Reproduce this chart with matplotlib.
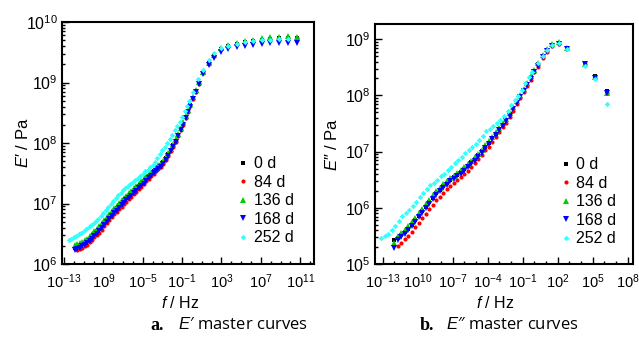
import numpy as np
import matplotlib
matplotlib.use('Agg')
import matplotlib.pyplot as plt
from matplotlib import font_manager
from matplotlib.ticker import FixedLocator, FixedFormatter, LogLocator, NullFormatter

nan = float('nan')

# ---------------- data (log10 values) ----------------
series_labels = ['0 d', '84 d', '136 d', '168 d', '252 d']

# E' master curves (panel a) : log10 f / Hz and log10 E' / Pa
logf_a = [-11.9, -11.65, -11.4, -11.15, -10.9, -10.65, -10.4, -10.15, -9.9, -9.65,
          -9.4, -9.15, -8.9, -8.65, -8.4, -8.15, -7.9, -7.65, -7.4, -7.15,
          -6.9, -6.65, -6.4, -6.15, -5.9, -5.65, -5.4, -5.15, -4.9, -4.65,
          -4.4, -4.15, -3.9, -3.65, -3.4, -3.15, -2.9, -2.65, -2.4, -2.15,
          -1.9, -1.65, -1.4, -1.15, -0.9, -0.65, -0.4, -0.15,
          0.15, 0.45, 0.75, 1.1, 1.7, 2.2, 2.95, 3.7, 4.55, 5.4,
          6.25, 7.1, 7.95, 8.8, 9.8, 10.65]
logE1_0d = [6.27, 6.29, 6.31, 6.33, 6.35, 6.38, 6.42, 6.46, 6.50, 6.54,
            6.58, 6.63, 6.68, 6.73, 6.78, 6.83, 6.88, 6.92, 6.97, 7.01,
            7.05, 7.09, 7.13, 7.17, 7.21, 7.25, 7.29, 7.33, 7.37, 7.42,
            7.46, 7.49, 7.53, 7.56, 7.60, 7.64, 7.69, 7.75, 7.81, 7.88,
            7.96, 8.04, 8.13, 8.23, 8.32, 8.43, 8.53, 8.62,
            8.74, 8.86, 8.99, 9.16, 9.32, 9.45, 9.56, 9.60, 9.64, 9.67,
            9.68, 9.70, 9.72, 9.73, 9.74, 9.73]
logE1_84d = [nan, 6.23, 6.25, 6.27, 6.29, 6.32, 6.36, 6.40, 6.44, 6.48,
             6.52, 6.57, 6.62, 6.67, 6.72, 6.77, 6.82, 6.86, 6.91, 6.95,
             6.99, 7.03, 7.07, 7.11, 7.15, 7.19, 7.24, 7.28, 7.32, 7.37,
             7.41, 7.45, 7.49, 7.53, 7.57, 7.61, 7.66, 7.72, 7.79, 7.86,
             7.94, 8.02, 8.11, 8.21, 8.30, 8.41, 8.51, 8.61,
             8.73, 8.85, 8.98, 9.15, 9.31, 9.44, 9.55, 9.60, 9.64, 9.67,
             9.68, 9.70, 9.71, 9.72, 9.73, 9.73]
logE1_136d = [6.31, 6.33, 6.35, 6.37, 6.39, 6.42, 6.46, 6.50, 6.54, 6.58,
              6.62, 6.67, 6.72, 6.77, 6.82, 6.87, 6.92, 6.96, 7.01, 7.05,
              7.09, 7.13, 7.17, 7.21, 7.25, 7.29, 7.33, 7.37, 7.41, 7.45,
              7.49, 7.52, 7.56, 7.59, 7.63, 7.67, 7.71, 7.77, 7.83, 7.90,
              7.98, 8.06, 8.15, 8.25, 8.34, 8.45, 8.55, 8.64,
              8.76, 8.88, 9.01, 9.17, 9.33, 9.46, 9.57, 9.62, 9.66, 9.69,
              9.71, 9.73, 9.75, 9.76, 9.77, 9.76]
logE1_168d = [6.23, 6.25, 6.27, 6.29, 6.31, 6.34, 6.38, 6.42, 6.46, 6.50,
              6.54, 6.59, 6.64, 6.69, 6.74, 6.79, 6.84, 6.88, 6.93, 6.97,
              7.01, 7.05, 7.09, 7.13, 7.17, 7.21, 7.25, 7.29, 7.33, 7.38,
              7.42, 7.46, 7.50, 7.53, 7.57, 7.61, 7.66, 7.72, 7.79, 7.86,
              7.94, 8.02, 8.11, 8.21, 8.30, 8.41, 8.51, 8.60,
              8.72, 8.84, 8.97, 9.14, 9.29, 9.41, 9.51, 9.55, 9.58, 9.61,
              9.62, 9.64, 9.65, 9.66, 9.66, 9.66]
logf_a_252d = [-12.5, -12.25, -12.0, -11.75, -11.5, -11.25, -11.0, -10.75, -10.5, -10.25,
               -10.0, -9.75, -9.5, -9.25, -9.0, -8.75, -8.5, -8.25, -8.0, -7.75,
               -7.5, -7.25, -7.0, -6.75, -6.5, -6.25, -6.0, -5.75, -5.5, -5.25,
               -5.0, -4.75, -4.5, -4.25, -4.0, -3.75, -3.5, -3.25, -3.0, -2.75,
               -2.5, -2.25, -2.0, -1.75, -1.5, -1.25, -1.0, -0.75, -0.5, -0.25,
               0.15, 0.65, 1.1, 1.7, 2.2, 2.95, 3.7, 4.55, 5.4, 6.25,
               7.1, 7.95, 8.8, 9.8]
logE1_252d = [6.40, 6.42, 6.44, 6.47, 6.49, 6.52, 6.55, 6.58, 6.61, 6.64,
              6.67, 6.71, 6.75, 6.79, 6.84, 6.89, 6.94, 6.99, 7.04, 7.09,
              7.14, 7.18, 7.22, 7.26, 7.29, 7.32, 7.35, 7.39, 7.42, 7.45,
              7.49, 7.53, 7.56, 7.60, 7.64, 7.69, 7.75, 7.82, 7.89, 7.94,
              8.00, 8.07, 8.14, 8.21, 8.28, 8.35, 8.43, 8.53, 8.61, 8.70,
              8.85, 9.05, 9.21, 9.38, 9.49, 9.57, 9.61, 9.64, 9.67, 9.68,
              9.70, 9.71, 9.72, 9.72]

# E'' master curves (panel b) : log10 f / Hz and log10 E'' / Pa
logf_b = [-12.0, -11.7, -11.4, -11.1, -10.8, -10.5, -10.2, -9.9, -9.6, -9.3,
          -9.0, -8.7, -8.4, -8.1, -7.8, -7.5, -7.2, -6.9, -6.6, -6.3,
          -6.0, -5.7, -5.4, -5.1, -4.8, -4.5, -4.2, -3.9, -3.6, -3.3,
          -3.0, -2.7, -2.4, -2.1, -1.8, -1.5, -1.2, -0.9, -0.6, -0.3,
          0.0, 0.3, 0.7, 1.1, 1.55, 2.1, 2.8, 4.3, 5.2, 6.2]
logE2_0d = [5.42, 5.46, 5.51, 5.57, 5.63, 5.70, 5.78, 5.86, 5.94, 6.02,
            6.10, 6.18, 6.26, 6.32, 6.38, 6.44, 6.50, 6.54, 6.59, 6.64,
            6.69, 6.75, 6.81, 6.87, 6.94, 7.01, 7.09, 7.16, 7.24, 7.32,
            7.40, 7.48, 7.56, 7.66, 7.77, 7.88, 7.99, 8.10, 8.20, 8.32,
            8.44, 8.55, 8.70, 8.80, 8.89, 8.93, 8.84, 8.57, 8.34, 8.08]
logE2_84d = [nan, 5.32, 5.37, 5.44, 5.50, 5.57, 5.65, 5.73, 5.81, 5.89,
             5.97, 6.05, 6.13, 6.20, 6.27, 6.33, 6.39, 6.44, 6.49, 6.55,
             6.60, 6.66, 6.72, 6.79, 6.86, 6.94, 7.02, 7.09, 7.17, 7.26,
             7.34, 7.43, 7.51, 7.61, 7.72, 7.84, 7.95, 8.06, 8.16, 8.28,
             8.41, 8.51, 8.66, 8.77, 8.87, 8.92, 8.83, 8.56, 8.31, 8.05]
logE2_136d = [5.38, 5.50, 5.55, 5.61, 5.67, 5.74, 5.82, 5.90, 5.98, 6.06,
              6.14, 6.22, 6.30, 6.36, 6.42, 6.48, 6.53, 6.57, 6.62, 6.67,
              6.72, 6.78, 6.84, 6.90, 6.96, 7.03, 7.11, 7.18, 7.26, 7.34,
              7.42, 7.50, 7.58, 7.68, 7.79, 7.90, 8.01, 8.12, 8.22, 8.34,
              8.46, 8.57, 8.72, 8.83, 8.92, 8.95, 8.85, 8.56, 8.32, 8.05]
logE2_168d = [5.29, 5.42, 5.48, 5.54, 5.60, 5.67, 5.75, 5.83, 5.91, 5.99,
              6.07, 6.15, 6.23, 6.29, 6.35, 6.41, 6.47, 6.51, 6.56, 6.61,
              6.66, 6.72, 6.78, 6.84, 6.91, 6.98, 7.06, 7.14, 7.22, 7.30,
              7.38, 7.46, 7.54, 7.64, 7.75, 7.86, 7.97, 8.08, 8.18, 8.30,
              8.42, 8.53, 8.68, 8.79, 8.88, 8.92, 8.83, 8.55, 8.31, 8.04]
logf_b_252d = [-13.1, -12.8, -12.5, -12.2, -11.9, -11.6, -11.3, -11.0, -10.7, -10.4,
               -10.1, -9.8, -9.5, -9.2, -8.9, -8.6, -8.3, -8.0, -7.7, -7.4,
               -7.1, -6.8, -6.5, -6.2, -5.9, -5.6, -5.3, -5.0, -4.7, -4.4,
               -4.1, -3.8, -3.5, -3.2, -2.9, -2.6, -2.3, -2.0, -1.7, -1.4,
               -1.1, -0.8, -0.5, -0.2, 0.3, 0.7, 1.1, 1.55, 2.1, 2.8,
               4.3, 5.2, 6.25]
logE2_252d = [5.46, 5.50, 5.54, 5.60, 5.67, 5.76, 5.85, 5.91, 5.96, 6.03,
              6.11, 6.19, 6.27, 6.34, 6.40, 6.45, 6.50, 6.56, 6.61, 6.67,
              6.73, 6.79, 6.85, 6.91, 6.97, 7.03, 7.08, 7.14, 7.20, 7.28,
              7.36, 7.41, 7.46, 7.51, 7.57, 7.64, 7.73, 7.83, 7.91, 7.99,
              8.09, 8.22, 8.33, 8.42, 8.58, 8.70, 8.80, 8.90, 8.93, 8.82,
              8.53, 8.29, 7.85]

# tick labels as printed in the reference
xticks_a = [1e-13, 1e-9, 1e-5, 1e-1, 1e3, 1e7, 1e11]
xticklabels_a = [r'$10^{-13}$', r'$10^{9}$', r'$10^{-5}$', r'$10^{-1}$',
                 r'$10^{3}$', r'$10^{7}$', r'$10^{11}$']
xticks_b = [1e-13, 1e-10, 1e-7, 1e-4, 1e-1, 1e2, 1e5, 1e8]
xticklabels_b = [r'$10^{-13}$', r'$10^{10}$', r'$10^{-7}$', r'$10^{-4}$',
                 r'$10^{-1}$', r'$10^{2}$', r'$10^{5}$', r'$10^{8}$']
yticks_a = [1e6, 1e7, 1e8, 1e9, 1e10]
yticklabels_a = [r'$10^{6}$', r'$10^{7}$', r'$10^{8}$', r'$10^{9}$', r'$10^{10}$']
yticks_b = [1e5, 1e6, 1e7, 1e8, 1e9]
yticklabels_b = [r'$10^{5}$', r'$10^{6}$', r'$10^{7}$', r'$10^{8}$', r'$10^{9}$']

# ---------------- style ----------------
names = {f.name for f in font_manager.fontManager.ttflist}
main_font = 'Liberation Sans Narrow' if 'Liberation Sans Narrow' in names else 'Liberation Sans'
plt.rcParams['font.family'] = [main_font, 'DejaVu Sans']
plt.rcParams['mathtext.fontset'] = 'custom'
plt.rcParams['mathtext.rm'] = main_font
plt.rcParams['mathtext.it'] = main_font + ':italic'
plt.rcParams['mathtext.bf'] = main_font + ':bold'

colors = ['#000000', '#ff0000', '#00cc00', '#0000ff', '#33ffff']
markers = ['s', 'o', '^', 'v', 'D']
msizes = [2.8, 3.0, 3.7, 3.7, 2.8]

fig = plt.figure(figsize=(6.39, 3.45), dpi=100)
W, H = 639, 345
axA = fig.add_axes([62 / W, 1 - 264 / H, 252 / W, 242 / H])
axB = fig.add_axes([375 / W, 1 - 264 / H, 258 / W, 240 / H])


def draw(ax, xs, ys):
    for x, y, c, m, s, lab in zip(xs, ys, colors, markers, msizes, series_labels):
        ax.plot(10 ** np.array(x), 10 ** np.array(y), linestyle='none', marker=m,
                color=c, markersize=s, markeredgewidth=0, label=lab)


draw(axA, [logf_a, logf_a, logf_a, logf_a, logf_a_252d],
     [logE1_0d, logE1_84d, logE1_136d, logE1_168d, logE1_252d])
draw(axB, [logf_b, logf_b, logf_b, logf_b, logf_b_252d],
     [logE2_0d, logE2_84d, logE2_136d, logE2_168d, logE2_252d])

for ax in (axA, axB):
    ax.set_xscale('log')
    ax.set_yscale('log')
    for sp in ax.spines.values():
        sp.set_linewidth(1.5)
    ax.tick_params(which='both', direction='in', width=1.0)
    ax.tick_params(axis='x', labelsize=10.5, pad=6)
    ax.tick_params(axis='y', labelsize=11.5, pad=3)
    ax.tick_params(which='major', length=5)
    ax.tick_params(which='minor', length=2.5)

axA.set_xlim(10 ** -13.2, 10 ** 12.4)
axA.set_ylim(1e6, 1e10)
axB.set_xlim(10 ** -13.65, 10 ** 8.45)
axB.set_ylim(1e5, 10 ** 9.27)

axA.xaxis.set_major_locator(FixedLocator(xticks_a))
axA.xaxis.set_major_formatter(FixedFormatter(xticklabels_a))
axA.xaxis.set_minor_locator(FixedLocator([10.0 ** k for k in range(-13, 13)]))
axA.xaxis.set_minor_formatter(NullFormatter())
axA.yaxis.set_major_locator(FixedLocator(yticks_a))
axA.yaxis.set_major_formatter(FixedFormatter(yticklabels_a))

axB.xaxis.set_major_locator(FixedLocator(xticks_b))
axB.xaxis.set_major_formatter(FixedFormatter(xticklabels_b))
axB.xaxis.set_minor_locator(FixedLocator([10.0 ** k for k in range(-13, 9)]))
axB.xaxis.set_minor_formatter(NullFormatter())
axB.yaxis.set_major_locator(FixedLocator(yticks_b))
axB.yaxis.set_major_formatter(FixedFormatter(yticklabels_b))

for ax in (axA, axB):
    ax.yaxis.set_minor_locator(LogLocator(base=10, subs=np.arange(2, 10)))
    ax.yaxis.set_minor_formatter(NullFormatter())

axA.set_ylabel('$E$\u2032 / Pa', fontsize=12)
axA.yaxis.set_label_coords(-0.125, 0.5)
axA.set_xlabel('$f$ / Hz', fontsize=11.5)
axA.xaxis.set_label_coords(0.47, -0.13)

axB.set_ylabel('$E$\u2033 / Pa', fontsize=12)
axB.yaxis.set_label_coords(-0.135, 0.5)
axB.set_xlabel('$f$ / Hz', fontsize=11.5)
axB.xaxis.set_label_coords(0.465, -0.13)

for ax, bx in ((axA, 0.70), (axB, 0.72)):
    ax.legend(loc='upper left', bbox_to_anchor=(bx, 0.445), frameon=False,
              fontsize=11.5, handlelength=0.6, handletextpad=0.35,
              labelspacing=0.22, borderpad=0.0, borderaxespad=0.0,
              markerscale=1.0)

# captions
fig.text(150 / W, 1 - 325 / H, 'a.', fontsize=13, fontweight='bold',
         family='Liberation Serif', va='center')
fig.text(178 / W, 1 - 325 / H, '$E$\u2032 master curves', fontsize=12,
         family=['Open Sans', 'DejaVu Sans'], va='center')
fig.text(420 / W, 1 - 325 / H, 'b.', fontsize=13, fontweight='bold',
         family='Liberation Serif', va='center')
fig.text(446 / W, 1 - 325 / H, '$E$\u2033 master curves', fontsize=12,
         family=['Open Sans', 'DejaVu Sans'], va='center')

fig.savefig('out.png', dpi=100)
